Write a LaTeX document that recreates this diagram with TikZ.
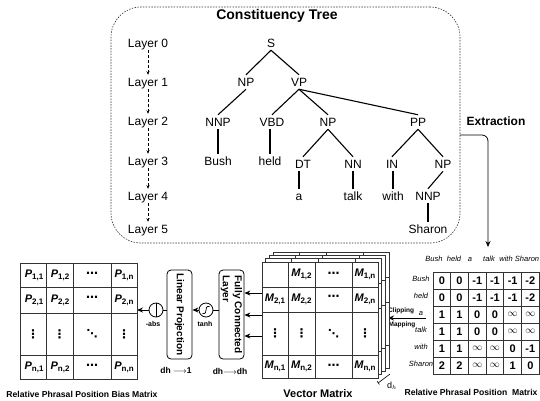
\documentclass[tikz,border=0pt]{standalone}
\usepackage{fontspec}
\setmainfont{Liberation Sans}
\newfontfamily\dejavu{DejaVu Sans}
\usetikzlibrary{arrows.meta}
\newcommand{\mysub}[1]{\raisebox{-0.35ex}{\fontsize{8}{8}\selectfont\bfseries #1}}
\newcommand{\Pcell}[1]{{\fontsize{11}{13}\selectfont\bfseries\itshape P}\mysub{#1}}
\newcommand{\Mcell}[1]{{\fontsize{11}{13}\selectfont\bfseries\itshape M}\mysub{#1}}
\newcommand{\hdotsb}{{\dejavu\bfseries\fontsize{12}{12}\selectfont ⋯}}
\newcommand{\vdotsb}{{\dejavu\bfseries\fontsize{12}{12}\selectfont ⋮}}
\newcommand{\ddotsb}{{\dejavu\fontsize{11}{11}\selectfont ⋱}}
\newcommand{\infsym}{{\fontsize{10}{10}\selectfont$\infty$}}
\tikzset{
  treebox/.style={draw=black!80, dash pattern=on 1.5pt off 1.3pt, line width=0.6pt, rounded corners=30pt},
  treelab/.style={font=\fontsize{12}{14}\selectfont, inner sep=0pt, text height=8.5pt, text depth=0pt, outer sep=3pt},
  tedge/.style={line width=1.1pt},
  lyrarrow/.style={densely dashed, line width=0.5pt, -{Stealth[length=3.5pt,width=3pt]}},
  gridln/.style={draw=black!80, line width=0.9pt},
  cell/.style={font=\fontsize{11}{13}\selectfont\bfseries, inner sep=0pt},
  arr/.style={line width=0.8pt, -{Stealth[length=6pt,width=5pt]}},
  blockbox/.style={draw, line width=0.8pt, rounded corners=4pt, minimum width=25pt, minimum height=89pt},
  opcirc/.style={draw, circle, line width=0.8pt, minimum size=14pt, inner sep=0pt},
  rowlab/.style={font=\fontsize{7.5}{9}\selectfont\itshape, inner sep=0pt, text height=5.5pt, text depth=0pt},
  smallb/.style={font=\fontsize{6.5}{7}\selectfont\bfseries, inner sep=0pt},
  dimlab/.style={font=\fontsize{8.5}{10}\selectfont\bfseries, inner sep=0pt},
  rottext/.style={rotate=-90, align=left, font=\fontsize{10}{12}\selectfont\bfseries, inner sep=0pt},
}
\begin{document}
\begin{tikzpicture}[x=1pt,y=-1pt]
\useasboundingbox (0,0) rectangle (540,400);

% ---------- constituency tree ----------
\node[treebox, minimum width=349pt, minimum height=236pt] (tbox) at (285.5,125) {};
\node[font=\fontsize{14}{16}\selectfont\bfseries] (title) at (277,16) {Constituency Tree};

\foreach \n/\yy in {0/43,1/82,2/121,3/161,4/196,5/229}
  \node[treelab] (L\n) at (148,\yy) {Layer \n};
\foreach \a/\b in {0/1,1/2,2/3,3/4,4/5}
  \draw[lyrarrow] (L\a.south) -- (L\b.north);

\node[treelab] (S) at (271,43) {S};
\node[treelab] (NPa) at (246,82) {NP};
\node[treelab] (VP) at (299,82) {VP};
\node[treelab] (NNPa) at (218,122) {NNP};
\node[treelab] (VBD) at (272,122) {VBD};
\node[treelab] (NPb) at (328,122) {NP};
\node[treelab] (PP) at (418,122) {PP};
\node[treelab] (Bush) at (218,161) {Bush};
\node[treelab] (held) at (270,161) {held};
\node[treelab] (DT) at (303,164) {DT};
\node[treelab] (NN) at (353,164) {NN};
\node[treelab] (IN) at (392,164) {IN};
\node[treelab] (NPc) at (443,164) {NP};
\node[treelab] (wa) at (299,196) {a};
\node[treelab] (talk) at (353,196) {talk};
\node[treelab] (with) at (393,196) {with};
\node[treelab] (NNPb) at (428,196) {NNP};
\node[treelab] (Sharon) at (428,229) {Sharon};

\draw[tedge] (S.south) -- (NPa.north);
\draw[tedge] (S.south) -- (VP.north);
\draw[tedge] (NPa.south) -- (NNPa.north);
\draw[tedge] (VP.south) -- (VBD.north);
\draw[tedge] (VP.south) -- (NPb.north);
\draw[tedge] (VP.south) -- (PP.north);
\draw[tedge] (NNPa.south) -- (Bush.north);
\draw[tedge] (held.north) -- (held.north |- VBD.south);
\draw[tedge] (NPb.south) -- (DT.north);
\draw[tedge] (NPb.south) -- (NN.north);
\draw[tedge] (PP.south) -- (IN.north);
\draw[tedge] (PP.south) -- (NPc.north);
\draw[tedge] (wa.north) -- (wa.north |- DT.south);
\draw[tedge] (NN.south) -- (talk.north);
\draw[tedge] (with.north) -- (with.north |- IN.south);
\draw[tedge] (NPc.south) -- (NNPb.north);
\draw[tedge] (NNPb.south) -- (Sharon.north);

% ---------- extraction ----------
\node[font=\fontsize{12}{14}\selectfont\bfseries] (extr) at (496,121) {Extraction};
\coordinate (e0) at (460,135);
\coordinate (e1) at (488,247);
\draw[arr, rounded corners=6pt] (e0) -| (e1);

% ---------- relative phrasal position matrix ----------
\foreach \w/\xx [count=\j] in {Bush/434,held/454,a/470,talk/489,with/506,Sharon/527}
  \node[rowlab] (ch-\j) at (\xx,259) {\w};
\foreach \w [count=\i from 0] in {Bush,held,a,talk,with,Sharon}
  \node[rowlab] (rl-\i) at (421,{278.5+17*\i}) {\w};
\draw[gridln] (433,272) rectangle (539.2,374);
\foreach \k in {1,...,5} {
  \draw[gridln] ({433+17.7*\k},272) -- ({433+17.7*\k},374);
  \draw[gridln] (433,{272+17*\k}) -- (539.2,{272+17*\k});
}
\foreach \r [count=\i from 0] in {{0,0,-1,-1,-1,-2},{0,0,-1,-1,-1,-2},{1,1,0,0,\infsym,\infsym},{1,1,0,0,\infsym,\infsym},{1,1,\infsym,\infsym,0,-1},{2,2,\infsym,\infsym,1,0}}
  \foreach \v [count=\j from 0] in \r
    \node[cell] (r-\i-\j) at ({441.85+17.7*\j},{280.5+17*\i}) {\v};
\node[font=\fontsize{8.6}{10}\selectfont\bfseries] (rppm) at (471,392) {Relative Phrasal Position\ \ Matrix};

% clipping & mapping
\coordinate (clipS) at (426,318);
\coordinate (clipE) at (388,318);
\draw[arr] (clipS) -- (clipE);
\node[smallb] (clip) at (401,311) {Clipping};
\node[smallb] (mapp) at (402,325) {Mapping};

% ---------- vector matrix (stack) ----------
\foreach \k in {3,2,1,0} {
  \begin{scope}[shift={(3.7*\k,-3.2*\k)}]
    \fill[white] (262,262) rectangle (378,378);
    \draw[gridln] (262,262) rectangle (378,378);
    \foreach \cx in {288,315,352} \draw[gridln] (\cx,262) -- (\cx,378);
    \foreach \ry in {287,312,355} \draw[gridln] (262,\ry) -- (378,\ry);
  \end{scope}
}
\node[cell] (m12) at (301.5,274.5) {\Mcell{1,2}};
\node[cell] (m13) at (333.5,274.5) {\hdotsb};
\node[cell] (m14) at (365,274.5) {\Mcell{1,n}};
\node[cell] (m21) at (275,299.5) {\Mcell{2,1}};
\node[cell] (m22) at (301.5,299.5) {\Mcell{2,2}};
\node[cell] (m23) at (333.5,298) {\hdotsb};
\node[cell] (m24) at (365,299.5) {\Mcell{2,n}};
\node[cell] (m31) at (275,333.5) {\vdotsb};
\node[cell] (m32) at (301.5,333.5) {\vdotsb};
\node[cell] (m33) at (333.5,333.5) {\ddotsb};
\node[cell] (m34) at (365,333.5) {\vdotsb};
\node[cell] (m41) at (275,366.5) {\Mcell{n,1}};
\node[cell] (m42) at (301.5,366.5) {\Mcell{n,2}};
\node[cell] (m43) at (333.5,366.5) {\hdotsb};
\node[cell] (m44) at (365,366.5) {\Mcell{n,n}};
\node[font=\fontsize{11}{13}\selectfont\bfseries] (vm) at (318,394) {Vector Matrix};

% d_h marker
\coordinate (dh0) at (378,383);
\coordinate (dh1) at (390,374);
\draw[line width=0.6pt, {Bar[width=4pt]}-] (dh0) -- (dh1);
\node[font=\fontsize{9}{10}\selectfont, inner sep=0pt] (dhl) at (392,386) {d$_h$};

% ---------- FC, tanh, linear projection, -abs ----------
\node[blockbox] (FC) at (231.5,314.5) {};
\node[rottext] (FCt) at (FC.center) {Fully Connected\\Layer};
\node[blockbox] (LP) at (179.5,314.5) {};
\node[rottext] (LPt) at (LP.center) {Linear Projection};

\foreach \yy [count=\n] in {293,315,336} {
  \coordinate (mL\n) at (262,\yy);
  \draw[arr] (mL\n) -- (FC.east |- mL\n);
}

\node[opcirc] (tanh) at (206,310) {};
\begin{scope}[shift={(tanh.center)}]
  \draw[line width=0.7pt] (-3.5,3.5) .. controls (3,4.5) and (-3,-4.5) .. (3.5,-3.5);
\end{scope}
\node[smallb, font=\fontsize{7}{8}\selectfont\bfseries] (tanhl) at (205,324) {tanh};
\draw[line width=0.8pt] (FC.west |- tanh) -- (tanh.east);
\draw[arr] (tanh.west) -- (LP.east |- tanh);

\node[opcirc] (abs) at (156,310) {};
\draw[line width=0.8pt] (abs.north) -- (abs.south);
\node[smallb, font=\fontsize{7}{8}\selectfont\bfseries] (absl) at (153,324) {-abs};
\draw[line width=0.8pt] (LP.west |- abs) -- (abs.east);
\coordinate (pR) at (137,310);
\draw[arr] (abs.west) -- (pR);

\node[dimlab] (d1) at (176,370) {dh $\longrightarrow$1};
\node[dimlab] (d2) at (230,371) {dh$\longrightarrow$dh};

% ---------- bias matrix P ----------
\draw[gridln] (20,263) rectangle (137,379);
\foreach \cx in {46,73,111} \draw[gridln] (\cx,263) -- (\cx,379);
\foreach \ry in {287,313,355} \draw[gridln] (20,\ry) -- (137,\ry);
\node[cell] (p11) at (34,275) {\Pcell{1,1}};
\node[cell] (p12) at (60,275) {\Pcell{1,2}};
\node[cell] (p13) at (92,274.5) {\hdotsb};
\node[cell] (p14) at (124,275) {\Pcell{1,n}};
\node[cell] (p21) at (34,300) {\Pcell{2,1}};
\node[cell] (p22) at (60,300) {\Pcell{2,2}};
\node[cell] (p23) at (92,298.5) {\hdotsb};
\node[cell] (p24) at (124,300) {\Pcell{2,n}};
\node[cell] (p31) at (33,334) {\vdotsb};
\node[cell] (p32) at (59.5,334) {\vdotsb};
\node[cell] (p33) at (92,334) {\ddotsb};
\node[cell] (p34) at (124,334) {\vdotsb};
\node[cell] (p41) at (34,367) {\Pcell{n,1}};
\node[cell] (p42) at (60,367) {\Pcell{n,2}};
\node[cell] (p43) at (92,366.5) {\hdotsb};
\node[cell] (p44) at (124,367) {\Pcell{n,n}};
\node[font=\fontsize{8.6}{10}\selectfont\bfseries] (rppbm) at (82,394) {Relative Phrasal Position Bias Matrix};
\end{tikzpicture}
\end{document}
